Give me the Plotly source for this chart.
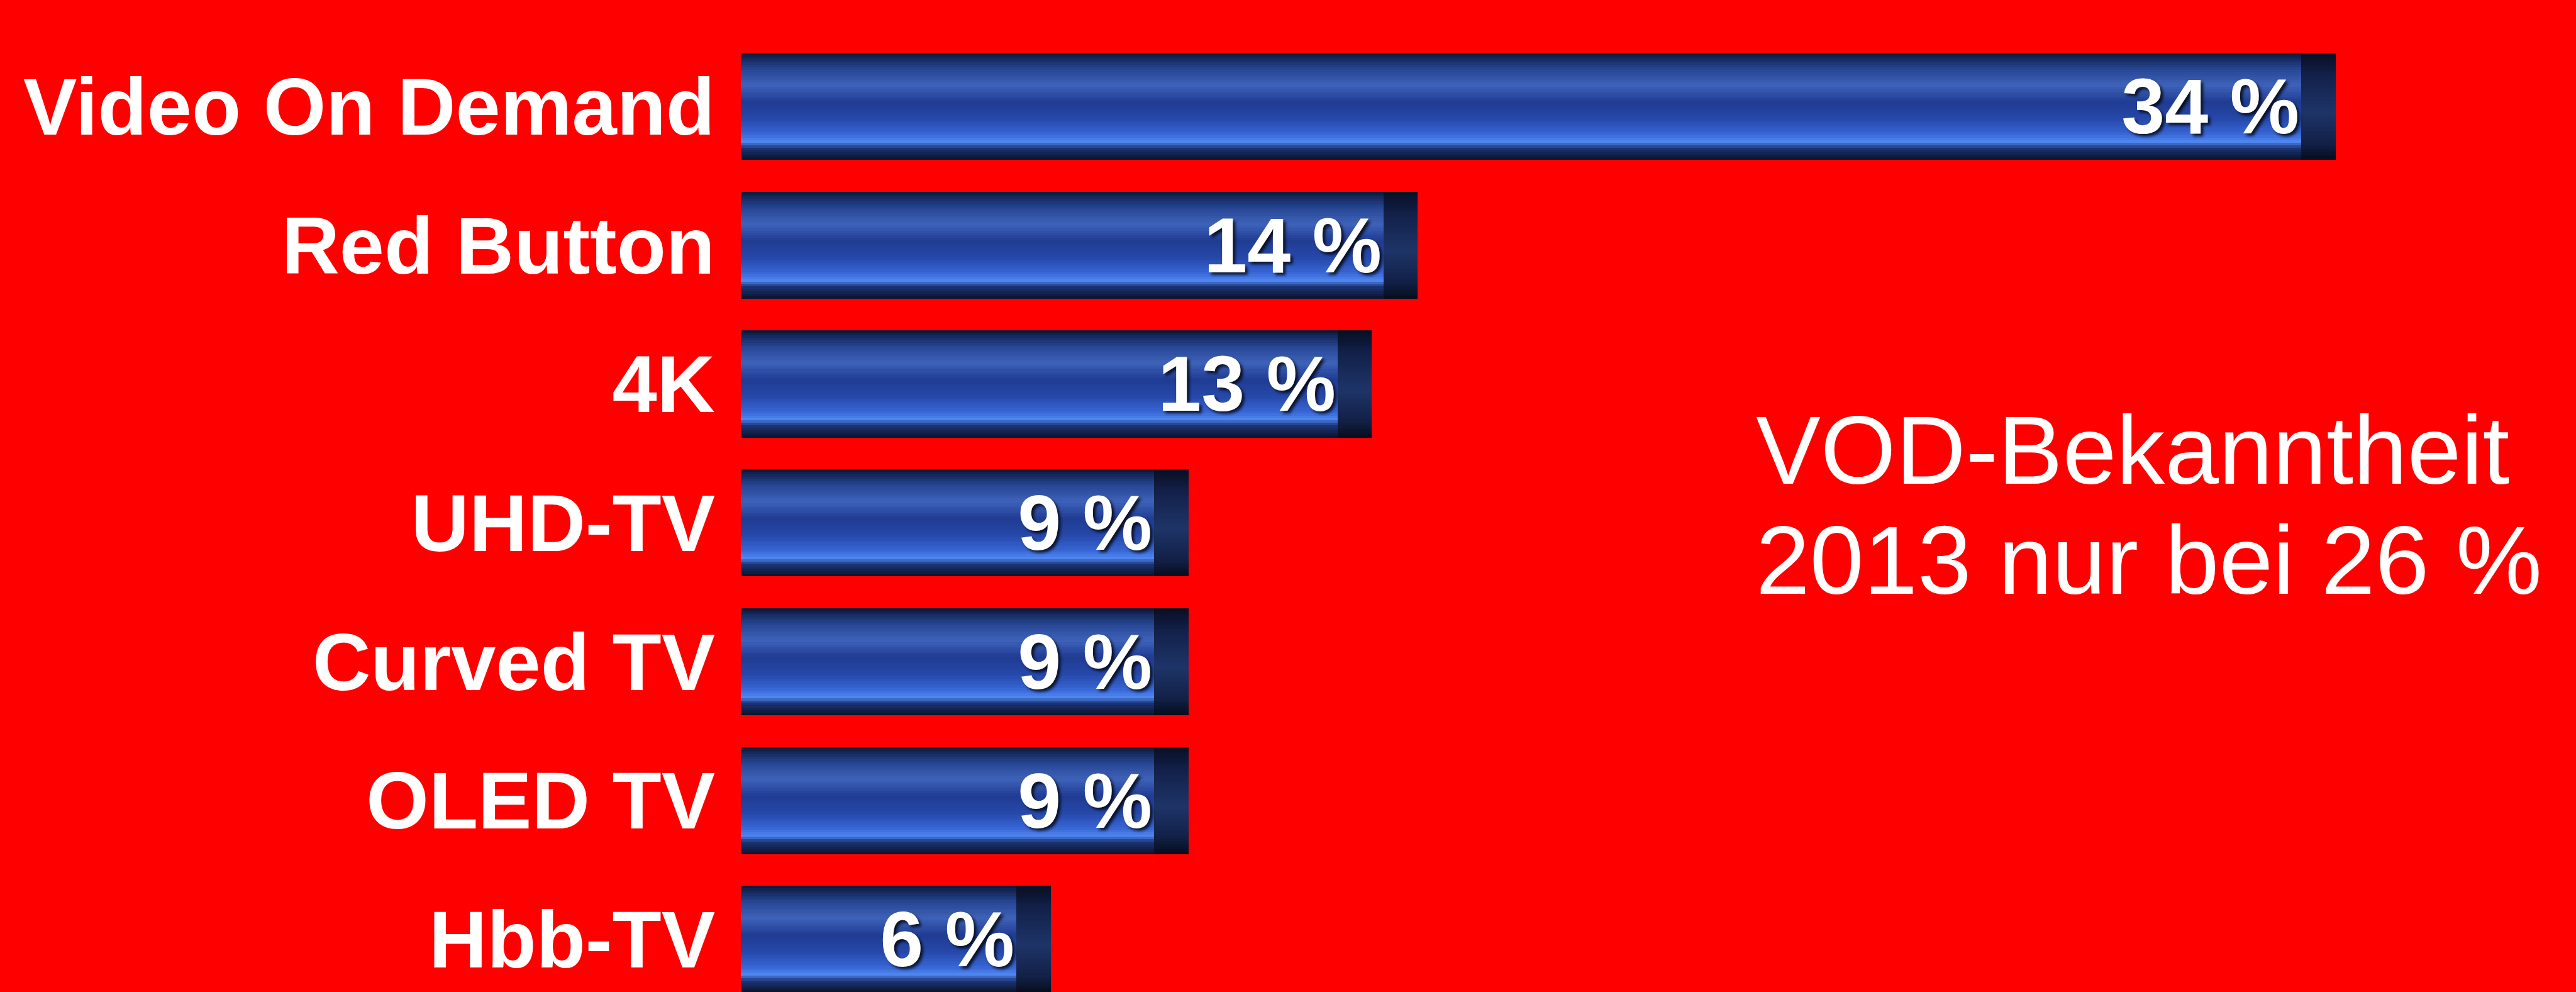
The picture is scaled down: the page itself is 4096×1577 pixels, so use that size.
import plotly.graph_objects as go

# Data
categories = ["Video On Demand", "Red Button", "4K", "UHD-TV", "Curved TV", "OLED TV", "Hbb-TV"]
values = [34, 14, 13, 9, 9, 9, 6]
value_labels = [f"{v} %" for v in values]
note_lines = ["VOD-Bekanntheit", "2013 nur bei 26 %"]

W, H = 4096, 1577
positions = list(range(len(categories)))

BAR_T = 0.77      # bar thickness in category units
CAP_W = 0.75      # depth of the end cap in value units
N_BANDS = 44

# vertical colour profile of the bar face (top -> bottom)
face_stops = [
    (0.00, (12, 22, 50)),
    (0.06, (22, 42, 96)),
    (0.16, (40, 72, 150)),
    (0.30, (62, 98, 186)),
    (0.46, (32, 60, 146)),
    (0.62, (38, 72, 170)),
    (0.76, (56, 102, 214)),
    (0.83, (78, 134, 240)),
    (0.89, (28, 52, 118)),
    (1.00, (10, 18, 42)),
]
cap_stops = [
    (0.00, (8, 14, 34)),
    (0.20, (18, 32, 72)),
    (0.55, (30, 52, 104)),
    (0.85, (18, 32, 70)),
    (1.00, (6, 12, 28)),
]


def profile(stops, t):
    for (t0, c0), (t1, c1) in zip(stops[:-1], stops[1:]):
        if t0 <= t <= t1:
            f = 0 if t1 == t0 else (t - t0) / (t1 - t0)
            c = [round(a + (b - a) * f) for a, b in zip(c0, c1)]
            return f"rgb({c[0]},{c[1]},{c[2]})"
    c = stops[-1][1]
    return f"rgb({c[0]},{c[1]},{c[2]})"


fig = go.Figure()
band = BAR_T / N_BANDS

# bar faces as stacked colour bands
for k in range(N_BANDS):
    t = (k + 0.5) / N_BANDS
    fig.add_trace(go.Bar(
        orientation="h", x=values, y=positions,
        width=band * 1.08, offset=-BAR_T / 2 + k * band,
        marker=dict(color=profile(face_stops, t), line=dict(width=0)),
        hoverinfo="skip", showlegend=False,
    ))

# end caps
for k in range(N_BANDS):
    t = (k + 0.5) / N_BANDS
    fig.add_trace(go.Bar(
        orientation="h", x=[CAP_W] * len(values), y=positions, base=values,
        width=band * 1.08, offset=-BAR_T / 2 + k * band,
        marker=dict(color=profile(cap_stops, t), line=dict(width=0)),
        hoverinfo="skip", showlegend=False,
    ))

# value labels
fig.add_trace(go.Bar(
    orientation="h", x=values, y=positions,
    width=BAR_T, offset=-BAR_T / 2,
    marker=dict(color="rgba(0,0,0,0)", line=dict(width=0)),
    text=value_labels, textposition="inside", insidetextanchor="end",
    constraintext="none", cliponaxis=False,
    textfont=dict(family="Liberation Sans", size=124, color="white", weight="bold",
                  shadow="4px 4px 4px rgba(0,0,0,0.75)"),
    hoverinfo="skip", showlegend=False,
))

x0 = 1178
unit = 72.98
y_top = 169
y_step = 220.7

fig.update_layout(
    width=W, height=H,
    margin=dict(l=0, r=0, t=0, b=0, autoexpand=False),
    paper_bgcolor="#ff0000", plot_bgcolor="#ff0000",
    barmode="overlay", bargap=0,
    xaxis=dict(domain=[x0 / W, 1], range=[0, (W - x0) / unit],
               visible=False, showgrid=False, zeroline=False, fixedrange=True),
    yaxis=dict(range=[(H - y_top) / y_step, -y_top / y_step],
               tickvals=positions, ticktext=categories, ticks="",
               ticklabelstandoff=40, automargin=False,
               tickfont=dict(family="Liberation Sans", size=128, color="white", weight="bold"),
               showgrid=False, zeroline=False, showline=False, fixedrange=True),
    font=dict(family="Liberation Sans"),
)

note_y = [716, 891]
for line, py in zip(note_lines, note_y):
    fig.add_annotation(
        text=line, xref="paper", yref="paper",
        x=2790 / W, y=1 - py / H, xanchor="left", yanchor="middle",
        showarrow=False,
        font=dict(family="Liberation Sans", size=154, color="white"),
    )

fig.write_html("out.html")
